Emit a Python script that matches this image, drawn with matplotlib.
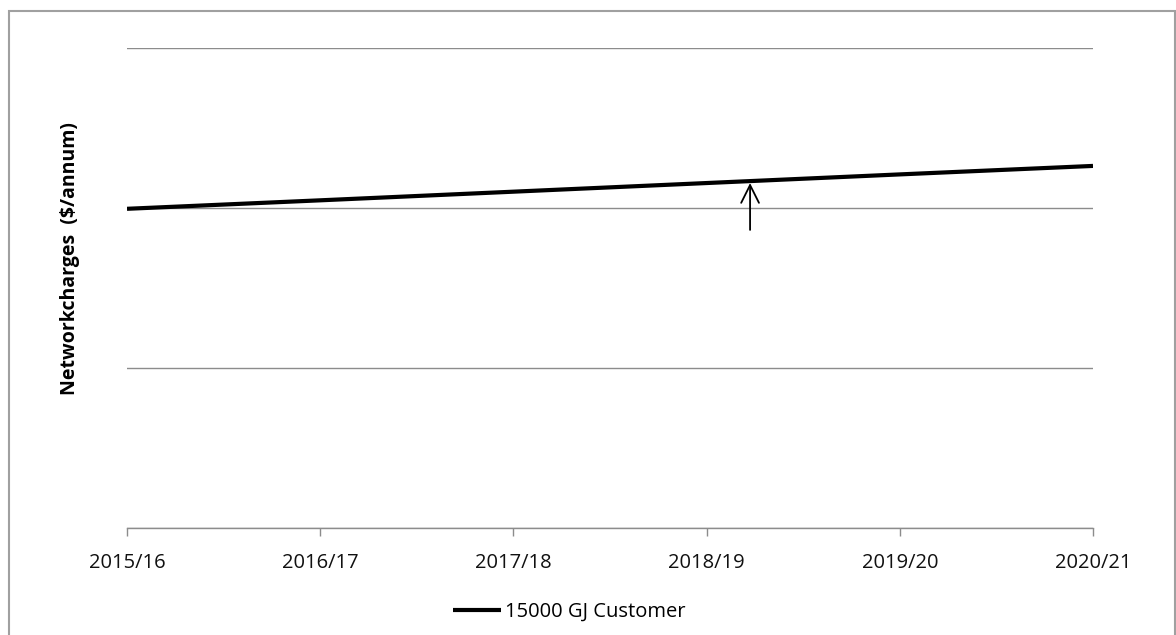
"""Network charges line chart for a 15000 GJ customer."""
import matplotlib.pyplot as plt
from matplotlib.patches import Rectangle

years = ["2015/16", "2016/17", "2017/18", "2018/19", "2019/20", "2020/21"]
charges = [19950, 20480, 21020, 21560, 22100, 22630]
series_label = "15000 GJ Customer"
y_label = "Networkcharges  ($/annum)"
y_ticks = [0, 10000, 20000, 30000]

FONT = ["Open Sans", "DejaVu Sans"]
GRID_COLOR = "#8c8c8c"

fig = plt.figure(figsize=(11.76, 6.35), dpi=100, facecolor="white")
ax = fig.add_axes([127 / 1176, 1 - 528 / 635, (1093 - 127) / 1176, (528 - 48) / 635])

x = list(range(len(years)))
ax.plot(x, charges, color="black", linewidth=3.0, solid_capstyle="butt", zorder=3, label=series_label)

# arrow pointing up to the line near 2018/19
ax.annotate(
    "", xy=(3.225, 21560), xytext=(3.225, 18630),
    arrowprops=dict(arrowstyle="->", color="black", lw=1.3, mutation_scale=32,
                    shrinkA=0, shrinkB=0),
    zorder=4,
)

ax.set_xlim(0, len(years) - 1)
ax.set_ylim(y_ticks[0], y_ticks[-1])
ax.set_yticks(y_ticks)
ax.set_yticklabels([])
ax.tick_params(axis="y", length=0)
ax.grid(axis="y", color=GRID_COLOR, linewidth=1.0)
ax.set_axisbelow(True)

ax.set_xticks(x)
ax.set_xticklabels(years, fontsize=14.5, family=FONT, color="#111111")
ax.tick_params(axis="x", length=6, width=1.0, color=GRID_COLOR, pad=12, direction="out")

for side in ["top", "right", "left"]:
    ax.spines[side].set_visible(False)
ax.spines["bottom"].set_color(GRID_COLOR)
ax.spines["bottom"].set_linewidth(1.0)

fig.text(70 / 1176, 1 - 259 / 635, y_label, rotation=90, ha="center", va="center",
         fontsize=14, fontweight="bold", family=FONT)

ax.legend(
    loc="center", bbox_to_anchor=(569 / 1176, 1 - 612 / 635), bbox_transform=fig.transFigure,
    frameon=False, handlelength=2.4, handletextpad=0.2,
    prop={"family": FONT, "size": 14.5},
)

fig.patches.append(Rectangle((9 / 1176, -0.01), (1175 - 9) / 1176, 1 - 11 / 635 + 0.01,
                             transform=fig.transFigure, fill=False, edgecolor="#a0a0a0",
                             linewidth=1.5, zorder=0))

fig.savefig("out.png", dpi=100, facecolor="white")
plt.close(fig)
